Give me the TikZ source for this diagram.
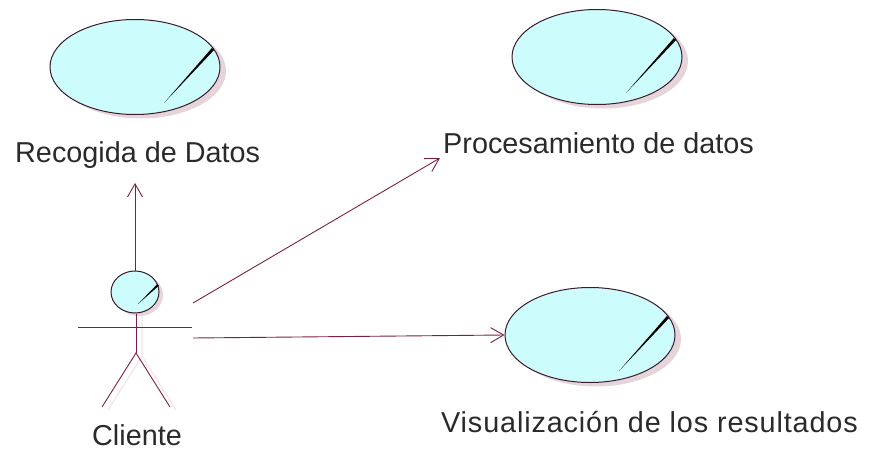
\documentclass[tikz,border=0pt]{standalone}
\usepackage{fontspec}
\setmainfont{Liberation Sans}
\newfontfamily\widefont[LetterSpace=3]{Liberation Sans}
\usetikzlibrary{shapes.geometric,arrows.meta}
\definecolor{ucfill}{HTML}{CCFCFC}
\definecolor{ucline}{HTML}{3C1C2C}
\definecolor{assoc}{HTML}{7A2048}
\definecolor{shade}{HTML}{E6D4DB}
\definecolor{faint}{HTML}{F5E4EA}
\definecolor{txt}{HTML}{2A2A2A}
\begin{document}
\begin{tikzpicture}[x=1pt,y=-1pt,
  usecase/.style={ellipse,draw=ucline,line width=1pt,fill=ucfill,minimum width=170pt,minimum height=95pt,inner sep=0pt},
  ucshadow/.style={ellipse,fill=shade,minimum width=170pt,minimum height=95pt,inner sep=0pt},
  lbl/.style={anchor=base west,inner sep=0pt,font=\fontsize{28.8}{30}\selectfont,text=txt},
  assocline/.style={draw=assoc,line width=0.9pt,-{Straight Barb[length=13pt,width=15pt,line width=0.9pt]}},
  actorline/.style={draw=assoc,line width=0.9pt},
  shadowline/.style={draw=faint,line width=1.2pt},
]
\useasboundingbox (0,0) rectangle (870,452);

% use cases
\node[ucshadow] at (141,71) {};
\node[usecase] (uc1) at (135,67) {};
\node[ucshadow] at (603,61) {};
\node[usecase] (uc2) at (597,57) {};
\node[ucshadow] at (596,339) {};
\node[usecase] (uc3) at (590,335) {};

\foreach \u in {uc1,uc2,uc3}{
  \begin{scope}[shift={(\u.center)}]
    \fill[black] (29,36) -- (76.9,-19.0) -- (79.1,-17.0) -- cycle;
  \end{scope}
}

% labels
\node[lbl] (l1) at (15,162) {Recogida de Datos};
\node[lbl] (l2) at (443,153) {Procesamiento de datos};
\node[lbl] (l3) at (441,432) {\widefont Visualización de los resultados};
\node[lbl] (l4) at (92,445) {Cliente};

% actor
\draw[shadowline] (142,314) -- (142,356) -- (108,410);
\draw[shadowline] (142,356) -- (176,410);
\node[ellipse,fill=shade,minimum width=48pt,minimum height=42pt,inner sep=0pt] at (139,295) {};
\node[ellipse,draw=ucline,line width=1pt,fill=ucfill,minimum width=48pt,minimum height=42pt,inner sep=0pt] (head) at (135,292) {};
\fill[black] (138,304) -- (157.3,284.1) -- (158.9,285.7) -- cycle;
\coordinate (hip) at (136,353);
\coordinate (armL) at (78,327);
\coordinate (armR) at (192,327);
\coordinate (footL) at (102,407);
\coordinate (footR) at (170,407);
\draw[actorline] (head.south) ++(1,0) -- (hip);
\draw[actorline] (armL) -- (armR);
\draw[actorline] (footL) -- (hip) -- (footR);

% associations
\coordinate (s2) at (193,303);
\coordinate (s3) at (193,338);
\coordinate (t1) at (135,183);
\coordinate (t2) at (440,158);
\draw[assocline] (head.north) -- (t1);
\draw[assocline] (s2) -- (t2);
\draw[assocline] (s3) -- (uc3.west);
\end{tikzpicture}
\end{document}
